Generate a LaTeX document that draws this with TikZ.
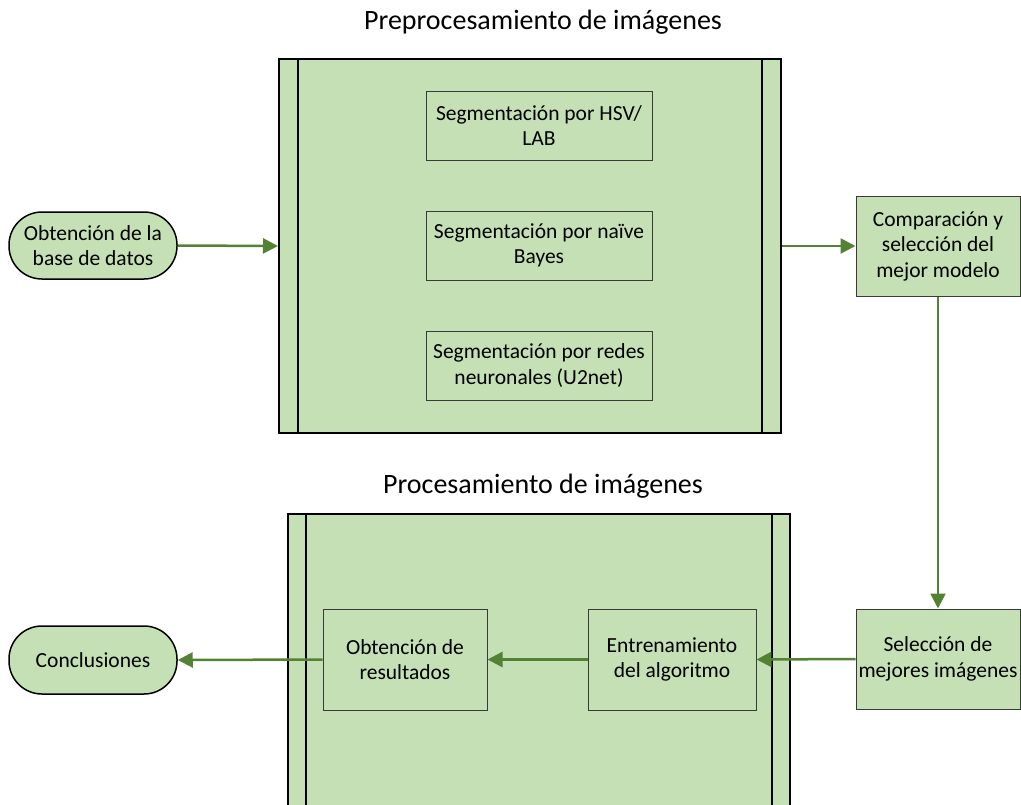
\documentclass[tikz,border=0pt]{standalone}
\usepackage{fontspec}
\setmainfont{Carlito}
\usetikzlibrary{arrows.meta}
\definecolor{fillg}{HTML}{C5E0B4}
\definecolor{arrg}{HTML}{548235}
\definecolor{bordg}{HTML}{3A3A3A}
\begin{document}
\begin{tikzpicture}[x=1pt,y=-1pt,
  big/.style={draw=black, line width=2pt, fill=fillg, inner sep=0pt},
  sideline/.style={draw=black, line width=2pt},
  box/.style={draw=bordg, line width=1pt, fill=fillg, inner sep=0pt, align=center,
    font=\fontsize{21.5}{25.5}\selectfont},
  term/.style={draw=black, line width=1.5pt, fill=fillg, inner sep=0pt, align=center,
    rounded corners=33pt, font=\fontsize{21.5}{25.5}\selectfont},
  ttl/.style={font=\fontsize{28}{32}\selectfont, inner sep=0pt},
  arr/.style={draw=arrg, line width=2.5pt, -{Triangle[length=15pt,width=15pt]}}]
\useasboundingbox (0,0) rectangle (1021,804);
\clip (0,0) rectangle (1021,804);
% titles
\node[ttl] (t1) at (543,22) {Preprocesamiento de imágenes};
\node[ttl] (t2) at (543,486) {Procesamiento de imágenes};
% top big box
\node[big, minimum width=502pt, minimum height=374pt] (pre) at (530,246) {};
\draw[sideline] ([xshift=20pt]pre.north west) -- ([xshift=20pt]pre.south west);
\draw[sideline] ([xshift=-20pt]pre.north east) -- ([xshift=-20pt]pre.south east);
\node[box, minimum width=226pt, minimum height=69pt] (s1) at (539,125.5) {Segmentación por HSV/\\LAB};
\node[box, minimum width=226pt, minimum height=69pt] (s2) at (539,245.5) {Segmentación por naïve\\Bayes};
\node[box, minimum width=226pt, minimum height=69pt] (s3) at (539,365.5) {Segmentación por redes\\neuronales (U2net)};
% bottom big box
\node[big, minimum width=502pt, minimum height=400pt] (proc) at (539,714) {};
\draw[sideline] ([xshift=19pt]proc.north west) -- ([xshift=19pt]proc.south west);
\draw[sideline] ([xshift=-19pt]proc.north east) -- ([xshift=-19pt]proc.south east);
\node[box, minimum width=168pt, minimum height=101pt] (train) at (672,659.5) {Entrenamiento\\del algoritmo};
\node[box, minimum width=164pt, minimum height=101pt] (res) at (405,659.5) {Obtención de\\resultados};
% terminals
\node[term, minimum width=168pt, minimum height=67pt] (start) at (93,245.5) {Obtención de la\\base de datos};
\node[term, minimum width=168pt, minimum height=68pt] (concl) at (93,660) {Conclusiones};
% right boxes
\node[box, minimum width=164pt, minimum height=100pt] (comp) at (938,246) {Comparación y\\selección del\\mejor modelo};
\node[box, minimum width=164pt, minimum height=100pt] (sel) at (938,659) {Selección de\\mejores imágenes};
% arrows
\draw[arr] (start.east) -- (pre.west);
\draw[arr] (pre.east) -- (comp.west);
\draw[arr] (comp.south) -- (sel.north);
\draw[arr] (sel.west) -- (train.east);
\draw[arr] (train.west) -- (res.east);
\draw[arr] (res.west) -- (concl.east);
\end{tikzpicture}
\end{document}
